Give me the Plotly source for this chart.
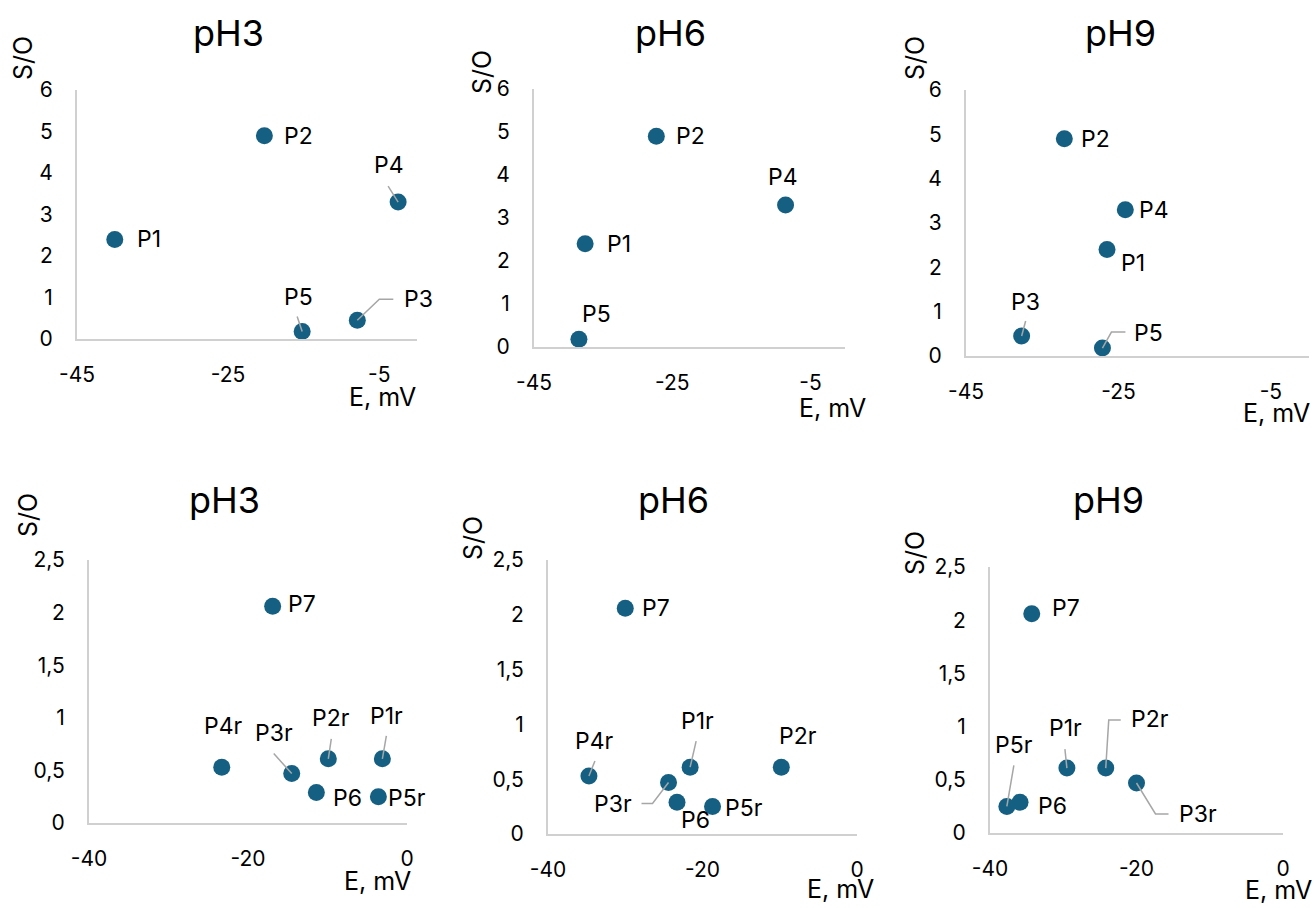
import plotly.graph_objects as go

# ---------------- data ----------------
top_points = ["P1", "P2", "P3", "P4", "P5"]
so_top = [2.4, 4.9, 0.45, 3.3, 0.18]
e_ph3_top = [-40.0, -20.2, -7.9, -2.5, -15.2]
e_ph6_top = [-37.6, -27.3, None, -8.6, -38.5]
e_ph9_top = [-26.5, -32.1, -37.7, -24.1, -27.1]

bot_points = ["P1r", "P2r", "P3r", "P4r", "P5r", "P6", "P7"]
so_bot = [0.61, 0.61, 0.47, 0.53, 0.25, 0.29, 2.06]
e_ph3_bot = [-3.1, -9.9, -14.5, -23.3, -3.6, -11.4, -16.9]
e_ph6_bot = [-21.6, -9.8, -24.4, -34.7, -18.7, -23.3, -30.0]
e_ph9_bot = [-29.5, -24.2, -20.0, None, -37.7, -35.9, -34.3]

panel_titles = ["pH3", "pH6", "pH9", "pH3", "pH6", "pH9"]
x_title = "E, mV"
y_title = "S/O"

top_xticks = [-45, -25, -5]
top_xticktext = ["-45", "-25", "-5"]
top_yticks = [0, 1, 2, 3, 4, 5, 6]
top_yticktext = ["0", "1", "2", "3", "4", "5", "6"]
bot_xticks = [-40, -20, 0]
bot_xticktext = ["-40", "-20", "0"]
bot_yticks = [0, 0.5, 1, 1.5, 2, 2.5]
bot_yticktext = ["0", "0,5", "1", "1,5", "2", "2,5"]

# ---------------- styling / layout ----------------
W, H = 1314, 908
FONT = "Inter"
MARKER_COLOR = "#156082"
AXIS_COLOR = "#d0d0d0"
LEADER_COLOR = "#a6a6a6"
TEXT = "#000000"
TICK_SIZE = 21
LABEL_SIZE = 23
AXTITLE_SIZE = 25
TITLE_SIZE = 36

# panel plot-area boxes in px: (left, right, top, bottom)
boxes = [
    (77, 417, 90, 339),
    (534, 845, 89, 347),
    (966, 1309, 90, 356),
    (89, 407, 560, 823),
    (548, 857, 560, 834),
    (990, 1283, 567, 833),
]
# title centers (px)
title_pos = [(228, 33), (670, 33), (1120, 33), (224, 500), (673, 500), (1108, 500)]
# S/O centres (px)
ytitle_pos = [(23, 58), (482, 72), (915, 58), (28, 515), (473, 538), (915, 553)]
# E, mV right edge / centre y (px)
xtitle_pos = [(418, 397), (868, 408), (1312, 413), (413, 881), (876, 889), (1314, 890)]

# label placement per panel: name -> (dx, dy, anchor) in screen px, and leader polylines
label_cfg = [
    {  # pH3 top
        "P1": (20, 0, "left"), "P2": (18, 0, "left"), "P4": (-9, -37, "center"),
        "P5": (-4, -35, "center"), "P3": (61, -21, "center"),
    },
    {  # pH6 top
        "P1": (20, 0, "left"), "P2": (18, 0, "left"), "P4": (-3, -28, "center"),
        "P5": (18, -25, "center"),
    },
    {  # pH9 top
        "P2": (15, 0, "left"), "P4": (12, 0, "left"), "P1": (12, 13, "left"),
        "P3": (4, -34, "center"), "P5": (46, -15, "center"),
    },
    {  # pH3 bottom
        "P7": (13, -2, "left"), "P4r": (2, -41, "center"), "P3r": (-18, -41, "center"),
        "P2r": (3, -41, "center"), "P1r": (4, -43, "center"), "P6": (15, 6, "left"),
        "P5r": (8, 1, "left"),
    },
    {  # pH6 bottom
        "P7": (15, 0, "left"), "P4r": (6, -35, "center"), "P1r": (7, -46, "center"),
        "P2r": (17, -31, "center"), "P3r": (-56, 22, "center"), "P6": (18, 18, "center"),
        "P5r": (10, 1, "left"),
    },
    {  # pH9 bottom
        "P7": (18, -6, "left"), "P5r": (7, -61, "center"), "P6": (16, 4, "left"),
        "P1r": (-1, -40, "center"), "P2r": (44, -49, "center"), "P3r": (61, 31, "center"),
    },
]
leader_cfg = [
    {"P4": [(0, 0), (-10, -16)], "P5": [(0, 0), (-5, -15)], "P3": [(0, 0), (22, -21), (36, -21)]},
    {},
    {"P3": [(0, 0), (4, -15)], "P5": [(0, 0), (9, -16), (23, -16)]},
    {"P3r": [(0, 0), (-18, -20)], "P2r": [(0, 0), (3, -20)], "P1r": [(0, 0), (4, -23)]},
    {"P4r": [(0, 0), (6, -15)], "P1r": [(0, 0), (6, -26)], "P3r": [(0, 0), (-16, 21), (-27, 21)]},
    {"P5r": [(0, 0), (7, -41)], "P1r": [(0, 0), (-2, -19)],
     "P2r": [(0, 0), (3, -48), (15, -48)], "P3r": [(0, 0), (19, 31), (32, 31)]},
]

panels = [
    (top_points, e_ph3_top, so_top, top_xticks, top_xticktext, top_yticks, top_yticktext, [-45, 0], [0, 6]),
    (top_points, e_ph6_top, so_top, top_xticks, top_xticktext, top_yticks, top_yticktext, [-45, 0], [0, 6]),
    (top_points, e_ph9_top, so_top, top_xticks, top_xticktext, top_yticks, top_yticktext, [-45, 0], [0, 6]),
    (bot_points, e_ph3_bot, so_bot, bot_xticks, bot_xticktext, bot_yticks, bot_yticktext, [-40, 0], [0, 2.5]),
    (bot_points, e_ph6_bot, so_bot, bot_xticks, bot_xticktext, bot_yticks, bot_yticktext, [-40, 0], [0, 2.5]),
    (bot_points, e_ph9_bot, so_bot, bot_xticks, bot_xticktext, bot_yticks, bot_yticktext, [-40, 0], [0, 2.5]),
]

fig = go.Figure()
annotations = []
shapes = []
layout_axes = {}

for i, (names, xs, ys, xt, xtt, yt, ytt, xr, yr) in enumerate(panels):
    n = i + 1
    xa = "x" if n == 1 else f"x{n}"
    ya = "y" if n == 1 else f"y{n}"
    keep = [(nm, x, y) for nm, x, y in zip(names, xs, ys) if x is not None]
    fig.add_trace(go.Scatter(
        x=[k[1] for k in keep], y=[k[2] for k in keep], mode="markers",
        marker=dict(size=17, color=MARKER_COLOR), xaxis=xa, yaxis=ya,
        showlegend=False, cliponaxis=False, hoverinfo="skip",
    ))
    l, r, t, b = boxes[i]
    axis_common = dict(
        showline=True, linecolor=AXIS_COLOR, linewidth=2, showgrid=False, zeroline=False,
        ticks="outside", tickcolor="rgba(0,0,0,0)",
        tickfont=dict(size=TICK_SIZE, color=TEXT, family=FONT),
        fixedrange=True, automargin=False,
    )
    layout_axes["xaxis" if n == 1 else f"xaxis{n}"] = dict(
        axis_common, domain=[l / W, r / W], range=xr, tickvals=xt, ticktext=xtt,
        ticklen=16, anchor=ya,
    )
    layout_axes["yaxis" if n == 1 else f"yaxis{n}"] = dict(
        axis_common, domain=[1 - b / H, 1 - t / H], range=yr, tickvals=yt, ticktext=ytt,
        ticklen=18, anchor=xa,
    )
    # data labels
    for nm, x, y in keep:
        dx, dy, anc = label_cfg[i][nm]
        annotations.append(dict(
            x=x, y=y, xref=xa, yref=ya, text=nm, showarrow=False,
            xanchor=anc, yanchor="middle", xshift=dx, yshift=-dy,
            font=dict(size=LABEL_SIZE, color=TEXT, family=FONT),
        ))
        if nm in leader_cfg[i]:
            pts = leader_cfg[i][nm]
            path = "M" + " L".join(f"{px},{-py}" for px, py in pts)
            shapes.append(dict(
                type="path", xref=xa, yref=ya, xsizemode="pixel", ysizemode="pixel",
                xanchor=x, yanchor=y, path=path, layer="above",
                line=dict(color=LEADER_COLOR, width=1.5),
            ))
    # titles
    tx, ty = title_pos[i]
    annotations.append(dict(
        x=tx / W, y=1 - ty / H, xref="paper", yref="paper", text=panel_titles[i],
        showarrow=False, xanchor="center", yanchor="middle",
        font=dict(size=TITLE_SIZE, color=TEXT, family=FONT),
    ))
    sx, sy = ytitle_pos[i]
    annotations.append(dict(
        x=sx / W, y=1 - sy / H, xref="paper", yref="paper", text=y_title, textangle=-90,
        showarrow=False, xanchor="center", yanchor="middle",
        font=dict(size=AXTITLE_SIZE, color=TEXT, family=FONT),
    ))
    ex, ey = xtitle_pos[i]
    annotations.append(dict(
        x=ex / W, y=1 - ey / H, xref="paper", yref="paper", text=x_title,
        showarrow=False, xanchor="right", yanchor="middle",
        font=dict(size=AXTITLE_SIZE, color=TEXT, family=FONT),
    ))

fig.update_layout(
    width=W, height=H, margin=dict(l=0, r=0, t=0, b=0, autoexpand=False),
    paper_bgcolor="white", plot_bgcolor="white",
    font=dict(family=FONT, color=TEXT),
    annotations=annotations, shapes=shapes, **layout_axes,
)

fig.write_html("out.html", config={"displayModeBar": False})
